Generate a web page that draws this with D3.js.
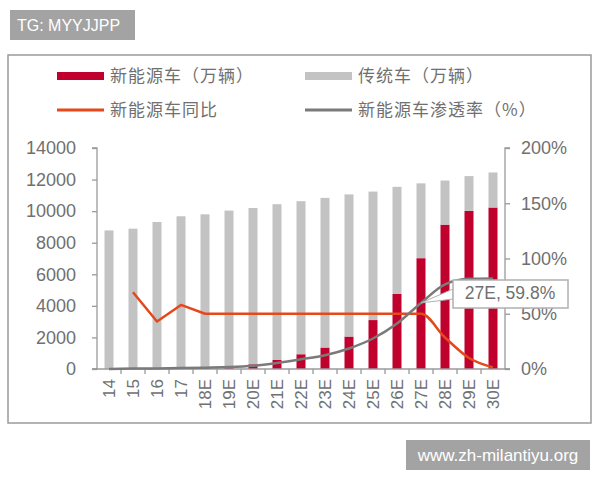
<!DOCTYPE html>
<html>
<head>
<meta charset="utf-8">
<script src="https://cdn.jsdelivr.net/npm/d3@7"></script>
<style>
  body { margin: 0; background: #fff; }
  svg { display: block; }
</style>
</head>
<body>
<div id="chart"></div>
<script>
// categories (years, E = estimate)
const years = ["14", "15", "16", "17", "18E", "19E", "20E", "21E", "22E", "23E", "24E", "25E", "26E", "27E", "28E", "29E", "30E"];
// 新能源车（万辆）
const nevSales = [7, 33, 51, 78, 120, 170, 300, 570, 935, 1360, 2055, 3100, 4755, 7020, 9145, 10015, 10230];
// 传统车（万辆）
const iceSales = [8773, 8857, 9264, 9597, 9680, 9865, 9900, 9870, 9695, 9480, 9005, 8140, 6785, 4740, 2795, 2205, 2220];
// 新能源车同比 (%), starts at 15
const nevYoY = [null, 69.5, 43, 58, 50, 50, 50, 50, 50, 50, 50, 50, 50, 50, 28.5, 10, 1.5];
// 新能源车渗透率 (%)
const nevShare = [0.1, 0.4, 0.5, 0.8, 1.2, 1.7, 2.9, 5.5, 8.8, 12.5, 18.6, 27.6, 41.2, 59.8, 76.6, 81.6, 82.0];

const leftTicks = [0, 2000, 4000, 6000, 8000, 10000, 12000, 14000];
const rightTicks = [0, 50, 100, 150, 200];

const W = 600, H = 480;
const svg = d3.select("#chart").append("svg")
    .attr("width", W)
    .attr("height", H);

// watermark top-left
svg.append("rect").attr("x", 10).attr("y", 10).attr("width", 125).attr("height", 30).attr("fill", "#a3a3a3");
svg.append("text").attr("x", 17).attr("y", 31)
    .attr("fill", "#fff").style("font-family", "Liberation Sans, Arial, sans-serif").style("font-size", "16px")
    .text("TG: MYYJJPP");

// frame
svg.append("rect").attr("x", 8).attr("y", 55).attr("width", 583).attr("height", 368)
    .attr("fill", "#fff").attr("stroke", "#9a9a9a").attr("stroke-width", 1.5);

const x = d3.scaleBand().domain(years).range([97, 505]).padding(0);
const y = d3.scaleLinear().domain([0, 14000]).range([369, 148]);
const y2 = d3.scaleLinear().domain([0, 200]).range([369, 148]);

const axisColor = "#9a9a9a", textColor = "#707070";
const numFont = "Liberation Sans, Arial, sans-serif";
const cjkFont = "Noto Sans CJK SC, sans-serif";

// bars (stacked)
const barW = 9;
const g = svg.append("g");
g.selectAll(".nev").data(years).join("rect")
    .attr("x", d => x(d) + x.bandwidth() / 2 - barW / 2)
    .attr("width", barW)
    .attr("y", (d, i) => y(nevSales[i]))
    .attr("height", (d, i) => y(0) - y(nevSales[i]))
    .attr("fill", "#c0002d");
g.selectAll(".ice").data(years).join("rect")
    .attr("x", d => x(d) + x.bandwidth() / 2 - barW / 2)
    .attr("width", barW)
    .attr("y", (d, i) => y(nevSales[i] + iceSales[i]))
    .attr("height", (d, i) => y(nevSales[i]) - y(nevSales[i] + iceSales[i]))
    .attr("fill", "#c3c3c3");

// axes
const leftAxis = svg.append("g").attr("transform", "translate(97,0)")
    .call(d3.axisLeft(y).tickValues(leftTicks).tickSize(5).tickPadding(16).tickFormat(d3.format("d")));
const rightAxis = svg.append("g").attr("transform", "translate(505,0)")
    .call(d3.axisRight(y2).tickValues(rightTicks).tickSize(5).tickPadding(11).tickFormat(d => d + "%"));
const bottomAxis = svg.append("g").attr("transform", "translate(0,369)")
    .call(d3.axisBottom(x).tickSize(0).tickFormat(""));
// bottom ticks at category boundaries
bottomAxis.selectAll(".bt").data(years.slice(1)).join("line")
    .attr("x1", d => x(d)).attr("x2", d => x(d))
    .attr("y1", 0).attr("y2", 5);

[leftAxis, rightAxis, bottomAxis].forEach(a => {
    a.select(".domain").attr("stroke", axisColor).attr("stroke-width", 1.3);
    a.selectAll("line").attr("stroke", axisColor).attr("stroke-width", 1.3);
    a.selectAll("text").attr("fill", textColor).style("font-family", numFont).style("font-size", "18px");
});
leftAxis.select(".domain").attr("d", "M-5,148H0V369H-5");
rightAxis.select(".domain").attr("d", "M5,148H0V369H5");
bottomAxis.select(".domain").attr("d", "M92,0H510");

// x labels rotated
svg.append("g").selectAll("text").data(years).join("text")
    .attr("transform", d => `translate(${x(d) + x.bandwidth() / 2 + 6},${379}) rotate(-90)`)
    .attr("text-anchor", "end")
    .attr("fill", textColor)
    .style("font-family", numFont).style("font-size", "17px")
    .text(d => d);

// lines
const cx = d => x(d) + x.bandwidth() / 2;
const pts = arr => years.map((d, i) => [d, arr[i]]).filter(d => d[1] != null);
const lineLinear = d3.line().x(d => cx(d[0])).y(d => y2(d[1]));
const lineSmooth = d3.line().x(d => cx(d[0])).y(d => y2(d[1])).curve(d3.curveMonotoneX);

// YoY: early years angular, later smooth
const yoyPts = pts(nevYoY);
const k = yoyPts.findIndex(d => d[0] === "18E");
svg.append("path")
    .attr("d", lineLinear(yoyPts.slice(0, k + 1)) + lineSmooth(yoyPts.slice(k)).replace(/^M/, "L"))
    .attr("fill", "none").attr("stroke", "#e5481a").attr("stroke-width", 2.5)
    .attr("stroke-linejoin", "round");

svg.append("path")
    .attr("d", lineSmooth(pts(nevShare)))
    .attr("fill", "none").attr("stroke", "#7a7a7a").attr("stroke-width", 2.5);

// callout 27E
const ci = years.indexOf("27E");
const px = cx("27E"), py = y2(nevShare[ci]);
svg.append("path")
    .attr("d", `M${px},${py}L453,289L453,299Z`)
    .attr("fill", "#fff").attr("stroke", "#b0b0b0").attr("stroke-width", 1);
svg.append("rect").attr("x", 453).attr("y", 280).attr("width", 115).attr("height", 28)
    .attr("fill", "#fff").attr("stroke", "#b0b0b0").attr("stroke-width", 1.5);
svg.append("text").attr("x", 510).attr("y", 299).attr("text-anchor", "middle")
    .attr("fill", textColor).style("font-family", numFont).style("font-size", "17.5px")
    .text("27E, " + nevShare[ci].toFixed(1) + "%");

// legend
const legend = svg.append("g").style("font-family", cjkFont).style("font-size", "17px").attr("fill", textColor);
legend.append("rect").attr("x", 57).attr("y", 72).attr("width", 47).attr("height", 8).attr("fill", "#c0002d");
legend.append("text").attr("x", 110).attr("y", 82).style("letter-spacing", "1px").text("新能源车（万辆）");
legend.append("rect").attr("x", 305).attr("y", 72).attr("width", 47).attr("height", 8).attr("fill", "#c3c3c3");
legend.append("text").attr("x", 358).attr("y", 82).style("letter-spacing", "1px").text("传统车（万辆）");
legend.append("line").attr("x1", 57).attr("x2", 104).attr("y1", 110).attr("y2", 110).attr("stroke", "#e5481a").attr("stroke-width", 3);
legend.append("text").attr("x", 110).attr("y", 116).style("letter-spacing", "1px").text("新能源车同比");
legend.append("line").attr("x1", 305).attr("x2", 352).attr("y1", 110).attr("y2", 110).attr("stroke", "#7a7a7a").attr("stroke-width", 3);
legend.append("text").attr("x", 358).attr("y", 116).style("letter-spacing", "1px").text("新能源车渗透率（%）");

// watermark bottom-right
svg.append("rect").attr("x", 406).attr("y", 440).attr("width", 184).attr("height", 30).attr("fill", "#a3a3a3");
svg.append("text").attr("x", 498).attr("y", 461).attr("text-anchor", "middle")
    .attr("fill", "#fff").style("font-family", numFont).style("font-size", "17px")
    .text("www.zh-milantiyu.org");
</script>
</body>
</html>
